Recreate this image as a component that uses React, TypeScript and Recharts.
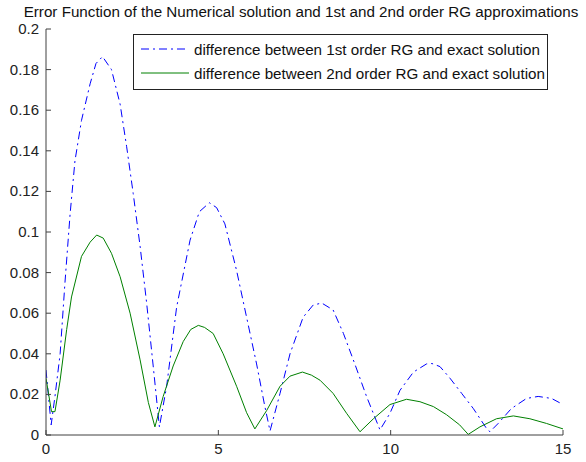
import { LineChart, Line, XAxis, YAxis } from "recharts";

const title =
  "Error Function of the Numerical solution and 1st and 2nd order RG approximations";
const firstLabel = "difference between 1st order RG and exact solution";
const secondLabel = "difference between 2nd order RG and exact solution";

const xTicks = [0, 5, 10, 15];
const yTicks = [0, 0.02, 0.04, 0.06, 0.08, 0.1, 0.12, 0.14, 0.16, 0.18, 0.2];

// 1st order RG error (blue, dash-dot)
const firstX = [
  0, 0.15, 0.26, 0.41, 0.55, 0.7, 0.84, 1.03, 1.28, 1.45, 1.64, 1.9, 2.15,
  2.34, 2.53, 2.73, 2.92, 3.11, 3.29, 3.5, 3.79, 4.18, 4.45, 4.74, 4.95, 5.19,
  5.53, 5.82, 6.11, 6.35, 6.5, 6.79, 7.08, 7.46, 7.75, 8.0, 8.33, 8.63, 8.96,
  9.3, 9.69, 9.98, 10.27, 10.66, 11.04, 11.2, 11.43, 11.72, 12.06, 12.4, 12.79,
  12.88, 13.12, 13.5, 13.94, 14.28, 14.67, 15,
];
const firstY = [
  0.032, 0.005, 0.019, 0.04, 0.075, 0.109, 0.135, 0.155, 0.173, 0.183, 0.1864,
  0.18, 0.163, 0.142, 0.119, 0.093, 0.065, 0.034, 0.004, 0.024, 0.063, 0.096,
  0.11, 0.1144, 0.112, 0.104, 0.081, 0.058, 0.035, 0.014, 0.002, 0.0205, 0.04,
  0.058, 0.064, 0.065, 0.0616, 0.05, 0.035, 0.019, 0.0025, 0.0107, 0.022,
  0.031, 0.035, 0.0352, 0.0337, 0.028, 0.0205, 0.013, 0.003, 0.0016, 0.0057,
  0.013, 0.018, 0.019, 0.018, 0.015,
];

// 2nd order RG error (green, solid)
const secondX = [
  0, 0.16, 0.26, 0.41, 0.6, 0.74, 1.03, 1.28, 1.47, 1.66, 1.9, 2.15, 2.44,
  2.73, 2.97, 3.16, 3.4, 3.69, 3.98, 4.2, 4.42, 4.6, 4.85, 5.14, 5.53, 5.82,
  6.06, 6.4, 6.79, 7.08, 7.44, 7.7, 7.95, 8.33, 8.72, 9.11, 9.5, 9.98, 10.46,
  10.85, 11.24, 11.62, 12.0, 12.25, 12.59, 13.07, 13.56, 14.04, 14.52, 15,
];
const secondY = [
  0.028, 0.0115, 0.0115, 0.027, 0.052, 0.068, 0.088, 0.095, 0.0985, 0.097,
  0.0895, 0.078, 0.06, 0.037, 0.016, 0.004, 0.019, 0.034, 0.046, 0.052, 0.054,
  0.053, 0.05, 0.04, 0.024, 0.011, 0.003, 0.012, 0.024, 0.029, 0.031, 0.0295,
  0.027, 0.0205, 0.0107, 0.0016, 0.008, 0.015, 0.0176, 0.0164, 0.014, 0.01,
  0.005, 0.0003, 0.004, 0.008, 0.0094, 0.008, 0.0057, 0.003,
];

const firstData = firstX.map((x, i) => ({ x, y: firstY[i] }));
const secondData = secondX.map((x, i) => ({ x, y: secondY[i] }));

const FONT = '"Liberation Sans", Arial, sans-serif';
const AXIS = "#404040";
const TICK_LEN = 5;

function BottomTick({ x, y, payload }: any) {
  const axisY = y - 8;
  return (
    <g>
      <line x1={x} x2={x} y1={axisY} y2={axisY - TICK_LEN} stroke={AXIS} />
      <text x={x} y={y} dy={10.5} textAnchor="middle" fontSize={15} fontFamily={FONT} fill="#222">
        {payload.value}
      </text>
    </g>
  );
}

function LeftTick({ x, y, payload }: any) {
  const axisX = x + 7;
  return (
    <g>
      <line x1={axisX} x2={axisX + TICK_LEN} y1={y} y2={y} stroke={AXIS} />
      <text x={x} y={y} dy={5} textAnchor="end" fontSize={15} fontFamily={FONT} fill="#222">
        {payload.value}
      </text>
    </g>
  );
}

function TopTick({ x, y }: any) {
  return <line x1={x} x2={x} y1={y} y2={y + TICK_LEN} stroke={AXIS} />;
}

function RightTick({ x, y }: any) {
  return <line x1={x} x2={x - TICK_LEN} y1={y} y2={y} stroke={AXIS} />;
}

export default function App() {
  return (
    <div
      style={{
        position: "absolute",
        left: 0,
        top: 0,
        width: 586,
        height: 462,
        background: "#fff",
        fontFamily: FONT,
      }}
    >
      <div
        style={{
          position: "absolute",
          left: 0,
          width: 586,
          top: 3,
          textAlign: "center",
          fontSize: 15.2,
          color: "#111",
          paddingLeft: 16,
          boxSizing: "border-box",
          whiteSpace: "nowrap",
        }}
      >
        {title}
      </div>
      <LineChart
        width={586}
        height={462}
        margin={{ top: 29, right: 23, bottom: 0, left: 0 }}
      >
        <XAxis
          xAxisId="bottom"
          dataKey="x"
          type="number"
          domain={[0, 15]}
          ticks={xTicks}
          allowDataOverflow
          height={27}
          tickSize={0}
          tickMargin={8}
          tickLine={false}
          axisLine={{ stroke: AXIS }}
          tick={<BottomTick />}
          interval={0}
        />
        <XAxis
          xAxisId="top"
          orientation="top"
          dataKey="x"
          type="number"
          domain={[0, 15]}
          ticks={xTicks}
          allowDataOverflow
          height={0}
          tickSize={0}
          tickMargin={0}
          tickLine={false}
          axisLine={{ stroke: AXIS }}
          tick={<TopTick />}
          interval={0}
        />
        <YAxis
          yAxisId="left"
          type="number"
          domain={[0, 0.2]}
          ticks={yTicks}
          allowDataOverflow
          width={46}
          tickSize={0}
          tickMargin={7}
          tickLine={false}
          axisLine={{ stroke: AXIS }}
          tick={<LeftTick />}
          interval={0}
        />
        <YAxis
          yAxisId="right"
          orientation="right"
          type="number"
          domain={[0, 0.2]}
          ticks={yTicks}
          allowDataOverflow
          width={0}
          tickSize={0}
          tickMargin={0}
          tickLine={false}
          axisLine={{ stroke: AXIS }}
          tick={<RightTick />}
          interval={0}
        />
        <Line
          xAxisId="bottom"
          yAxisId="left"
          data={firstData}
          dataKey="y"
          type="linear"
          stroke="#0000ff"
          strokeWidth={1}
          strokeDasharray="8 4 2 4"
          dot={false}
          isAnimationActive={false}
        />
        <Line
          xAxisId="bottom"
          yAxisId="left"
          data={secondData}
          dataKey="y"
          type="linear"
          stroke="#008000"
          strokeWidth={1}
          dot={false}
          isAnimationActive={false}
        />
        <Line
          xAxisId="top"
          yAxisId="right"
          data={secondData}
          dataKey="y"
          stroke="none"
          dot={false}
          activeDot={false}
          isAnimationActive={false}
        />
      </LineChart>
      <div
        style={{
          position: "absolute",
          left: 133,
          top: 34,
          width: 415,
          height: 56,
          border: "1px solid #222",
          background: "#fff",
          boxSizing: "border-box",
          fontSize: 15.2,
          color: "#111",
        }}
      >
        {[
          { label: firstLabel, color: "#0000ff", dash: "8 4 2 4" },
          { label: secondLabel, color: "#008000", dash: undefined },
        ].map((item, i) => (
          <div
            key={i}
            style={{
              position: "absolute",
              left: 6,
              top: 4 + i * 24,
              height: 20,
              display: "flex",
              alignItems: "center",
              whiteSpace: "nowrap",
            }}
          >
            <svg width={50} height={20} style={{ marginRight: 4 }}>
              <line
                x1={1}
                x2={49}
                y1={10}
                y2={10}
                stroke={item.color}
                strokeWidth={1}
                strokeDasharray={item.dash}
              />
            </svg>
            <span>{item.label}</span>
          </div>
        ))}
      </div>
    </div>
  );
}
